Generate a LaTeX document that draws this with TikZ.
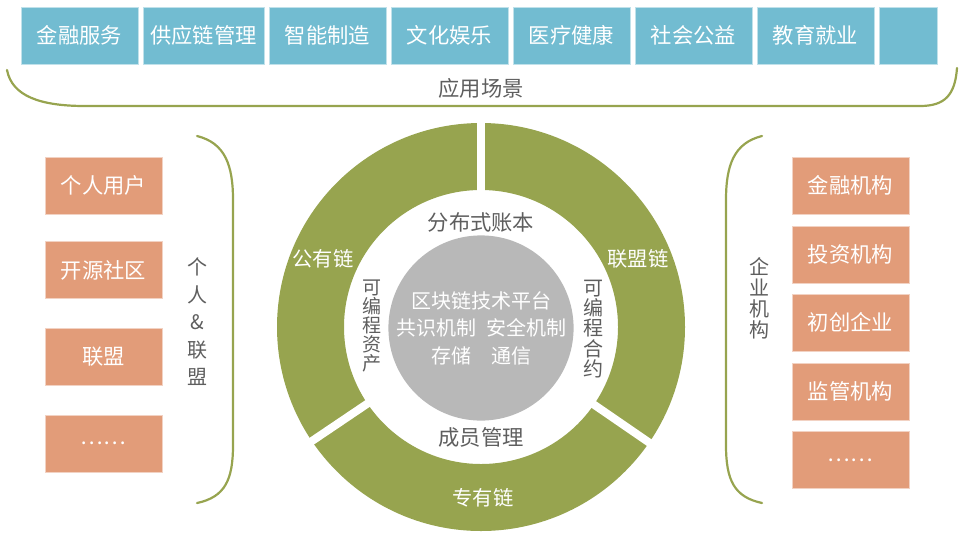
\documentclass[tikz,border=0pt]{standalone}
\usepackage{fontspec}
\setmainfont{Noto Sans CJK SC}
\definecolor{appblue}{HTML}{72BCD1}
\definecolor{userorange}{HTML}{E29C79}
\definecolor{ringgreen}{HTML}{97A44F}
\definecolor{coregray}{HTML}{B8B8B8}
\definecolor{labelgray}{HTML}{5E5E5E}

\begin{document}
\begin{tikzpicture}[x=1pt, y=-1pt,
	box/.style={rectangle, minimum height=57pt, inner sep=0pt, text=white, font=\fontsize{21.3}{24}\selectfont},
	appbox/.style={box, fill=appblue, draw=white!55!appblue, line width=0.8pt},
	userbox/.style={box, fill=userorange, draw=white!55!userorange, line width=0.8pt, minimum width=117pt},
	brace/.style={draw=ringgreen, line width=2.2pt, line cap=round},
	gapline/.style={draw=white, line width=8pt},
	tag/.style={text=labelgray, font=\fontsize{21.3}{24}\selectfont, inner sep=0pt},
	vtag/.style={tag, align=center},
	chain/.style={text=white, font=\fontsize{20.3}{24}\selectfont},
	core/.style={circle, fill=coregray, minimum size=178pt, inner sep=0pt, text=white, align=center, font=\fontsize{20}{27.5}\selectfont}]
	\useasboundingbox (0,0) rectangle (960,536);
	% application scenarios
	\foreach \x/\w/\t [count=\i] in {79.5/117/金融服务, 203.5/121/供应链管理, 327.5/117/智能制造, 449.5/117/文化娱乐, 571.5/117/医疗健康, 693.5/117/社会公益, 815.5/117/教育就业, 908/58/{}} {
		\node[appbox, minimum width=\w pt] (app\i) at (\x,35.5) {\t};
	}
	\draw[brace] (7,70) .. controls (12,96) and (40,106) .. (85,106) -- (920,106) .. controls (945,106) and (955,95) .. (957,68);
	\node[tag] (scene) at (481,88) {应用场景};
	% individuals and alliances
	\foreach \y/\t [count=\i] in {185.5/个人用户, 270/开源社区, 356.5/联盟, 443.5/……} {
		\node[userbox] (user\i) at (103.5,\y) {\t};
	}
	\draw[brace] (197,136) .. controls (225,143) and (233,165) .. (233,200) -- (233,445) .. controls (233,480) and (225,497) .. (197,503);
	\node[vtag, font=\fontsize{20}{27.5}\selectfont] (users) at (197,322) {个\\人\\\&\\联\\盟};
	% enterprises
	\foreach \y/\t [count=\i] in {185.5/金融机构, 254.5/投资机构, 322.5/初创企业, 391.5/监管机构, 460/……} {
		\node[userbox] (org\i) at (850.5,\y) {\t};
	}
	\draw[brace] (762,136) .. controls (734,143) and (726,165) .. (726,200) -- (726,445) .. controls (726,480) and (734,497) .. (762,503);
	\node[vtag, font=\fontsize{20}{21}\selectfont] (orgs) at (759,298) {企\\业\\机\\构};
	% chain ring
	\coordinate (hub) at (481,327);
	\fill[ringgreen, even odd rule] (hub) circle[radius=204] (hub) circle[radius=137];
	\foreach \a in {270,146,34.5} {
		\draw[gapline] (hub) ++(\a:130) -- ++(\a:82);
	}
	\node[chain] (public) at (323,259) {公有链};
	\node[chain] (alliance) at (638,259) {联盟链};
	\node[chain] (private) at (483,498) {专有链};
	\node[tag] (ledger) at (481,222) {分布式账本};
	\node[tag] (members) at (481,437) {成员管理};
	\node[vtag, font=\fontsize{19}{19}\selectfont] (assets) at (372,326) {可\\编\\程\\资\\产};
	\node[vtag, font=\fontsize{20}{20.4}\selectfont] (contracts) at (593,329) {可\\编\\程\\合\\约};
	\node[core] (core) at (481,328) {区块链技术平台\\共识机制\enspace 安全机制\\存储\quad 通信};
\end{tikzpicture}
\end{document}
